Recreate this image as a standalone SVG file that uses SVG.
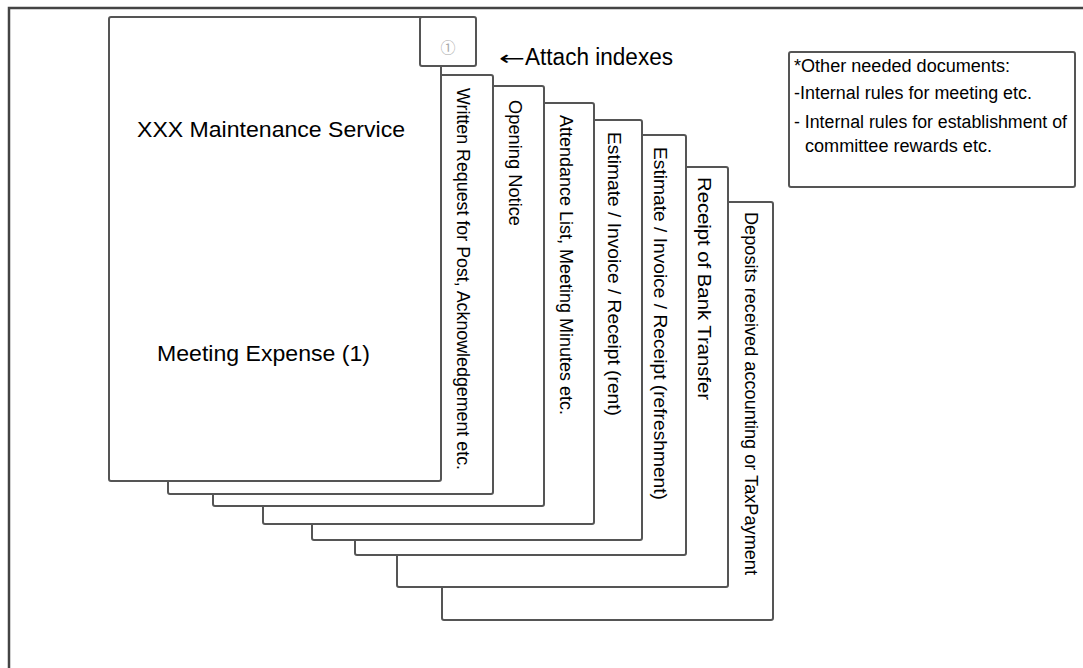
<svg xmlns="http://www.w3.org/2000/svg" width="1083" height="668" viewBox="0 0 1083 668">
<style>
.pg{fill:#fff;stroke:#555;stroke-width:2}
.t{font-family:"Liberation Sans",Arial,sans-serif;fill:#000}
.v{font-size:18px}
.n{font-size:18px}
</style>
<rect x="0" y="0" width="1083" height="668" fill="#fff"/>
<g id="frame"><rect x="9" y="8" width="1200" height="800" fill="none" stroke="#444" stroke-width="2.5"/></g>
<g id="page8"><rect class="pg" x="442" y="202" width="331" height="418" rx="2"/>
<text class="t v" x="745" y="212" transform="rotate(90 745 212)" textLength="363" lengthAdjust="spacingAndGlyphs">Deposits received accounting or TaxPayment</text></g>
<g id="page7"><rect class="pg" x="397" y="167" width="331" height="420" rx="2"/>
<text class="t v" x="698" y="177" transform="rotate(90 698 177)" textLength="223" lengthAdjust="spacingAndGlyphs">Receipt of Bank Transfer</text></g>
<g id="page6"><rect class="pg" x="355" y="135" width="331" height="420" rx="2"/>
<text class="t v" x="654" y="147" transform="rotate(90 654 147)" textLength="353" lengthAdjust="spacingAndGlyphs">Estimate / Invoice / Receipt (refreshment)</text></g>
<g id="page5"><rect class="pg" x="312" y="120" width="330" height="420" rx="2"/>
<text class="t v" x="608" y="132" transform="rotate(90 608 132)" textLength="284" lengthAdjust="spacingAndGlyphs">Estimate / Invoice / Receipt (rent)</text></g>
<g id="page4"><rect class="pg" x="263" y="103" width="331" height="421" rx="2"/>
<text class="t v" x="560" y="115" transform="rotate(90 560 115)" textLength="300" lengthAdjust="spacingAndGlyphs">Attendance List, Meeting Minutes etc.</text></g>
<g id="page3"><rect class="pg" x="213" y="86" width="331" height="420" rx="2"/>
<text class="t v" x="509" y="100" transform="rotate(90 509 100)" textLength="126" lengthAdjust="spacingAndGlyphs">Opening Notice</text></g>
<g id="page2"><rect class="pg" x="168" y="75" width="325" height="419" rx="2"/>
<text class="t v" x="457" y="88" transform="rotate(90 457 88)" textLength="382" lengthAdjust="spacingAndGlyphs">Written Request for Post, Acknowledgement etc.</text></g>
<g id="main-page"><rect class="pg" x="109" y="17" width="332" height="464" rx="2"/>
<text class="t" x="137" y="137" font-size="22" textLength="268" lengthAdjust="spacingAndGlyphs">XXX Maintenance Service</text>
<text class="t" x="157" y="361" font-size="22" textLength="213" lengthAdjust="spacingAndGlyphs">Meeting Expense (1)</text></g>
<g id="index-tab"><rect class="pg" x="420" y="17" width="56" height="49" rx="2"/>
<text x="448" y="53" font-size="15" text-anchor="middle" fill="#aaa" font-family="'Noto Sans CJK JP','DejaVu Sans',sans-serif">①</text></g>
<g id="connectors"></g>
<g id="attach-label">
<text class="t" x="499" y="65" font-size="20" style="font-family:'DejaVu Sans',sans-serif" textLength="26" lengthAdjust="spacingAndGlyphs">←</text>
<text class="t" x="525" y="65" font-size="23" textLength="148" lengthAdjust="spacingAndGlyphs">Attach indexes</text></g>
<g id="note-box"><rect x="789" y="52" width="286" height="135" rx="2" fill="#fff" stroke="#555" stroke-width="2"/>
<text class="t n" x="794" y="72" textLength="216" lengthAdjust="spacingAndGlyphs">*Other needed documents:</text>
<text class="t n" x="794" y="99" textLength="238" lengthAdjust="spacingAndGlyphs">-Internal rules for meeting etc.</text>
<text class="t n" x="794" y="128" textLength="273" lengthAdjust="spacingAndGlyphs">- Internal rules for establishment of</text>
<text class="t n" x="805" y="152" textLength="187" lengthAdjust="spacingAndGlyphs">committee rewards etc.</text></g>
</svg>
